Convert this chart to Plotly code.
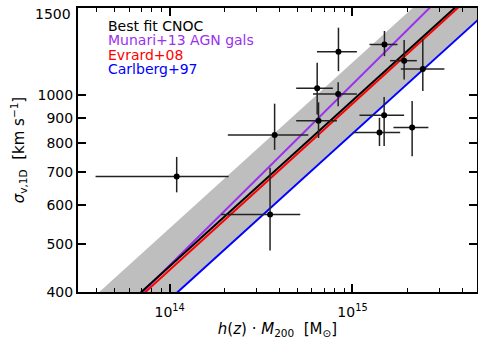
import numpy as np
import plotly.graph_objects as go

# ---- data ----
mass = [8.38e14, 1.496e15, 1.917e15, 2.425e15, 6.41e14, 8.35e14, 6.52e14,
        3.75e14, 1.490e15, 1.405e15, 2.120e15, 1.092e14, 3.54e14]
mass_lo = [6.39e14, 1.239e15, 1.607e15, 1.839e15, 4.92e14, 6.08e14, 4.92e14,
           2.08e14, 1.092e15, 1.013e15, 1.675e15, 3.93e13, 1.91e14]
mass_hi = [1.057e15, 1.762e15, 2.249e15, 3.183e15, 7.81e14, 1.057e15, 8.22e14,
           5.73e14, 1.917e15, 1.823e15, 2.602e15, 2.101e14, 5.18e14]
sigma = [1224, 1266, 1174, 1129, 1033, 1005, 888, 831, 911, 840, 860, 685, 574]
sigma_lo = [1118, 1199, 1076, 1019, 914, 950, 819, 775, 789, 789, 752, 636, 485]
sigma_hi = [1369, 1348, 1292, 1297, 1163, 1062, 967, 961, 991, 900, 973, 750, 713]

# scaling relations sigma = A * (M / 1e15)^alpha
rel_names = ["Best fit CNOC", "Munari+13 AGN gals", "Evrard+08", "Carlberg+97"]
rel_norm = [975.0, 1052.0, 961.0, 836.0]
rel_slope = [0.335, 0.366, 0.3361, 0.335]
rel_colors = ["black", "#9B30F0", "#FF0000", "#0000FF"]
band_up_dex = 0.077
band_lo_dex = -0.066

x_ticks = [1e14, 1e15]
x_ticktext = ["10<sup>14</sup>", "10<sup>15</sup>"]
y_ticks = [400, 500, 600, 700, 800, 900, 1000, 1500]
y_top_label = "1500"

FONT = "DejaVu Sans"

mgrid = np.logspace(13.3, 15.9, 60)
def rel(i, m):
    return rel_norm[i] * (m / 1e15) ** rel_slope[i]

fig = go.Figure()
# scatter band around best fit
fig.add_trace(go.Scatter(x=mgrid, y=rel(0, mgrid) * 10 ** band_lo_dex, mode="lines",
                         line=dict(width=0, color="#BEBEBE"), showlegend=False, hoverinfo="skip"))
fig.add_trace(go.Scatter(x=mgrid, y=rel(0, mgrid) * 10 ** band_up_dex, mode="lines",
                         line=dict(width=0, color="#BEBEBE"), fill="tonexty",
                         fillcolor="#BEBEBE", showlegend=False, hoverinfo="skip"))
for i in [3, 1, 2, 0]:
    fig.add_trace(go.Scatter(x=mgrid, y=rel(i, mgrid), mode="lines",
                             line=dict(width=2, color=rel_colors[i]),
                             name=rel_names[i], showlegend=False))

m = np.array(mass); s = np.array(sigma)
fig.add_trace(go.Scatter(
    x=m, y=s, mode="markers",
    marker=dict(color="black", size=6),
    error_x=dict(type="data", symmetric=False, array=np.array(mass_hi) - m,
                 arrayminus=m - np.array(mass_lo), width=0, thickness=1.5, color="#222"),
    error_y=dict(type="data", symmetric=False, array=np.array(sigma_hi) - s,
                 arrayminus=s - np.array(sigma_lo), width=0, thickness=1.5, color="#222"),
    showlegend=False))

# text legend
for i, nm in enumerate(rel_names):
    fig.add_annotation(x=0.07, y=0.938 - i * 0.051, xref="paper", yref="paper",
                       text=nm, showarrow=False, xanchor="left", yanchor="middle",
                       font=dict(family=FONT, size=14, color=rel_colors[i]))

# top y label, placed just below its tick as in the original
fig.add_annotation(x=-0.012, y=0.978, xref="paper", yref="paper", text=y_top_label,
                   showarrow=False, xanchor="right", yanchor="middle",
                   font=dict(family=FONT, size=14, color="black"))

minor_x = [k * 10 ** e for e in [13, 14, 15] for k in range(2, 10)]

fig.update_xaxes(type="log", range=[np.log10(3.15e13), np.log10(4.8e15)],
                 tickvals=x_ticks, ticktext=x_ticktext, ticks="inside", ticklen=8,
                 tickwidth=1.5, tickcolor="black", showline=True, linecolor="black",
                 linewidth=2, mirror="ticks", showgrid=False, zeroline=False,
                 automargin=False, ticklabelstandoff=6,
                 minor=dict(tickvals=minor_x, ticks="inside", ticklen=4, tickwidth=1.2,
                            tickcolor="black", showgrid=False),
                 tickfont=dict(family=FONT, size=14, color="black"),
                 title=dict(text="<i>h</i>(<i>z</i>) · <i>M</i><sub>200</sub>  [M<sub>⊙</sub>]",
                            font=dict(family=FONT, size=15, color="black"), standoff=8))
fig.update_yaxes(type="log", range=[np.log10(400) - 1e-4, np.log10(1500) + 1e-4],
                 tickvals=y_ticks,
                 ticktext=[str(v) if v != 1500 else "" for v in y_ticks], ticks="inside",
                 ticklen=8, tickwidth=1.5, tickcolor="black", showline=True,
                 linecolor="black", linewidth=2, mirror="ticks", showgrid=False,
                 zeroline=False, automargin=False,
                 tickfont=dict(family=FONT, size=14, color="black"),
                 title=dict(text="<i>σ</i><sub>v,1D</sub>  [km s<sup>−1</sup>]",
                            font=dict(family=FONT, size=15, color="black"), standoff=9))

fig.update_layout(width=478, height=339, margin=dict(l=78, r=1, t=8, b=47),
                  plot_bgcolor="white", paper_bgcolor="white", showlegend=False)

fig.write_html("out.html", config={"displayModeBar": False},
               post_script="document.body.style.margin='0';document.body.style.overflow='hidden';")
